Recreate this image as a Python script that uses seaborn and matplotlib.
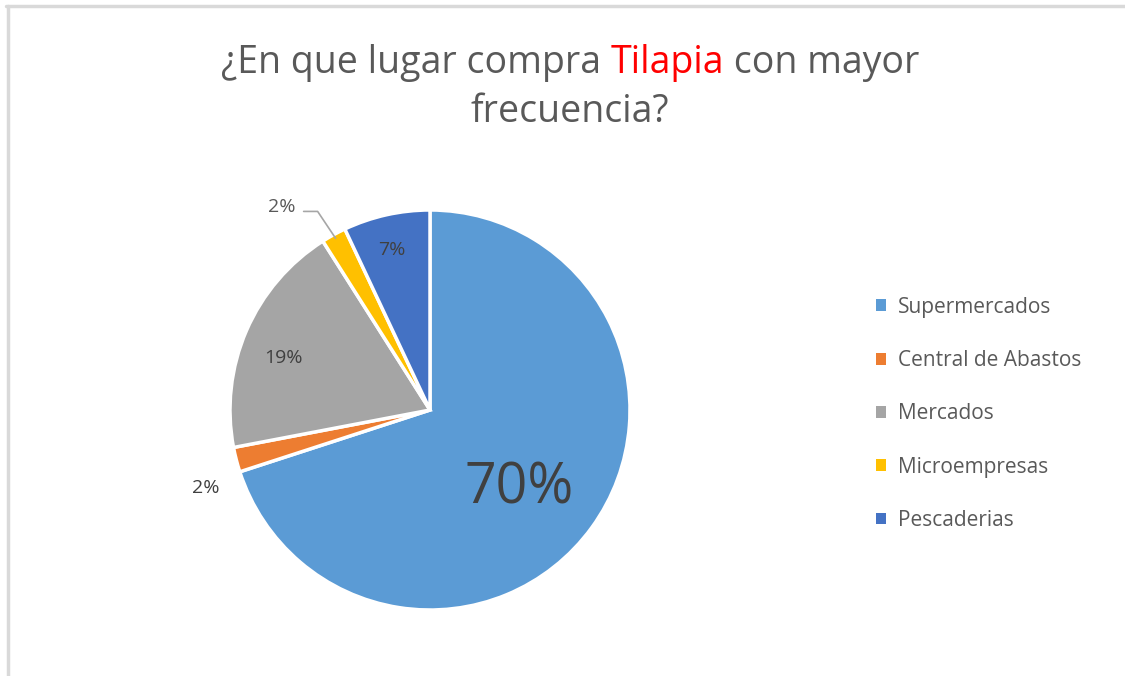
import numpy as np
import matplotlib
matplotlib.use("Agg")
import matplotlib.pyplot as plt
import seaborn as sns
from matplotlib.patches import Patch
from matplotlib.lines import Line2D

categories = ["Supermercados", "Central de Abastos", "Mercados", "Microempresas", "Pescaderias"]
values = [70, 2, 19, 2, 7]
pct_labels = ["70%", "2%", "19%", "2%", "7%"]
colors = ["#5B9BD5", "#ED7D31", "#A5A5A5", "#FFC000", "#4472C4"]

sns.set_theme(style="white")
plt.rcParams['font.family'] = ['Open Sans', 'DejaVu Sans']

fig = plt.figure(figsize=(11.25, 6.76), dpi=100)
W, H = 1125, 676

# pie area: centre ~ (430, 410) px, radius ~ 200 px
cx, cy, r = 430, 410, 200
ax = fig.add_axes([(cx - r) / W, (H - cy - r) / H, 2 * r / W, 2 * r / H])
wedges, _ = ax.pie(values, colors=colors, startangle=90, counterclock=False,
                   wedgeprops=dict(edgecolor="white", linewidth=2.5))
ax.set_xlim(-1, 1)
ax.set_ylim(-1, 1)
ax.set_aspect("equal")
ax.axis("off")

# data labels placed along each wedge's mid angle
dist = [0.55, 1.16, 0.80, 1.27, 0.83]
sizes = [40, 14, 14, 14, 14]
tcols = ["#404040", "#404040", "#404040", "#595959", "#404040"]
offs = [(0, -0.07), (0, -0.10), (0, -0.06), (-0.13, -0.10), (-0.01, -0.01)]
cum = np.cumsum([0] + values[:-1])
for i, v in enumerate(values):
    mid = 90 - (cum[i] + v / 2) / sum(values) * 360
    x = dist[i] * np.cos(np.radians(mid)) + offs[i][0]
    y = dist[i] * np.sin(np.radians(mid)) + offs[i][1]
    ax.text(x, y, pct_labels[i], ha="center", va="center",
            fontsize=sizes[i], color=tcols[i])
    if i == 3:
        # leader line for the small Microempresas slice
        ex = 0.98 * np.cos(np.radians(mid))
        ey = 0.98 * np.sin(np.radians(mid))
        ax.plot([x + 0.11, x + 0.18, ex], [y - 0.02, y - 0.02, ey],
                color="#A6A6A6", lw=1.2, clip_on=False)

# title with red word
parts = [("¿En que lugar compra ", "#595959"), ("Tilapia", "#FF0000"), (" con mayor", "#595959")]
renderer = fig.canvas.get_renderer()
tsize = 27
texts = []
for s, c in parts:
    t = fig.text(0, 1 - 63 / H, s, fontsize=tsize, color=c, va="center", ha="left")
    texts.append(t)
widths = [t.get_window_extent(renderer).width for t in texts]
x0 = 570 - sum(widths) / 2
for t, w in zip(texts, widths):
    t.set_x(x0 / W)
    x0 += w
fig.text(570 / W, 1 - 112 / H, "frecuencia?", fontsize=tsize, color="#595959",
         ha="center", va="center")

# legend
handles = [Patch(facecolor=c, edgecolor="none") for c in colors]
leg = fig.legend(handles, categories, loc="upper left", bbox_to_anchor=(857 / W, 1 - 278 / H),
                 frameon=False, fontsize=15, labelcolor="#595959", handlelength=0.5,
                 handleheight=0.5, handletextpad=0.55, labelspacing=1.55)

# chart frame
fig.add_artist(Line2D([6 / W, 1], [1 - 6 / H, 1 - 6 / H], color="#D9D9D9", lw=2.5,
                      transform=fig.transFigure))
fig.add_artist(Line2D([7.5 / W, 7.5 / W], [0, 1 - 6 / H], color="#D9D9D9", lw=2.5,
                      transform=fig.transFigure))

fig.savefig("out.png", dpi=100, facecolor="white")
